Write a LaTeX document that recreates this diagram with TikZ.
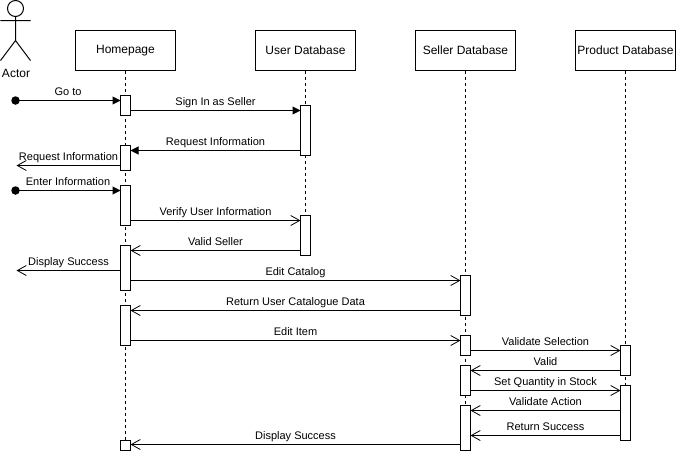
\documentclass[tikz,border=0pt]{standalone}
\usepackage{fontspec}
\setmainfont{Liberation Sans}
\usetikzlibrary{arrows.meta,backgrounds}
\tikzset{
  headbox/.style={draw,fill=white,line width=1pt,minimum width=100pt,minimum height=40pt,inner sep=0,outer sep=0,font=\fontsize{12}{14}\selectfont},
  bar/.style={draw,fill=white,line width=1pt,minimum width=10pt,inner sep=0,outer sep=0},
  startdot/.style={circle,fill=black,minimum size=8.5pt,inner sep=0,outer sep=0},
  lifeline/.style={line width=1pt,dash pattern=on 3pt off 3pt},
  solidmsg/.style={line width=1pt,-{Triangle[length=8pt,width=8pt]}},
  openmsg/.style={line width=1pt,-{Straight Barb[length=9pt,width=10pt,line width=0.8pt]}},
  lab/.style={midway,anchor=base,yshift=5pt,inner sep=0,font=\fontsize{11}{13}\selectfont}
}
\begin{document}
\begin{tikzpicture}[x=1pt,y=-1pt]
      \useasboundingbox (-0.5,-0.5) rectangle (676.5,454.5);
      \node[draw,circle,line width=1pt,minimum size=16pt,inner sep=0,outer sep=0] (head) at (15,8) {};
      \coordinate (hip) at (15,40);
      \coordinate (handL) at (0,20);
      \coordinate (handR) at (30,20);
      \coordinate (footL) at (0,60);
      \coordinate (footR) at (30,60);
      \draw[line width=1pt] (head) -- (hip) (handL) -- (handR) (footL) -- (hip) -- (footR);
      \node[font=\fontsize{12}{14}\selectfont] (actor) at (15.5,73) {Actor};
      \foreach \n/\x/\t in {hp/125/Homepage,ud/305/User Database,sd/465/Seller Database,pd/625/Product Database}
        \node[headbox] (\n) at (\x,50) {\t};
      \foreach \n/\x/\a/\b in {h1/125/95/115,h2/125/145/170,h3/125/185/225,h4/125/245/290,h5/125/305/345,h6/125/440/450,
          u1/305/105/155,u2/305/215/255,
          s1/465/275/315,s2/465/335/355,s3/465/365/395,s4/465/405/450,
          p1/625/345/375,p2/625/385/440}
        \node[bar,minimum height=\b pt-\a pt] (\n) at (\x,{(\a+\b)/2}) {};
      \begin{scope}[on background layer]
        \foreach \n/\m in {hp/h6,ud/u2,sd/s4,pd/p2}
          \draw[lifeline] (\n) -- (\m);
      \end{scope}
      \node[startdot] (d1) at (15,100) {};
      \node[startdot] (d2) at (15,190) {};
      \coordinate (e1) at (16,165);
      \coordinate (e2) at (16,270);
      \foreach \a/\b/\y/\t in {d1/h1.west/100/Go to,
          h1.east/u1.west/110/Sign In as Seller,
          u1.west/h2.east/150/Request Information,
          d2/h3.west/190/Enter Information}
        \draw[solidmsg] (\a |- 0,\y) -- (\b |- 0,\y) node[lab] {\t};
      \foreach \a/\b/\y/\t in {h2.west/e1/165/Request Information,
          h3.east/u2.west/220/Verify User Information,
          u2.west/h4.east/250/Valid Seller,
          h4.west/e2/270/Display Success,
          h4.east/s1.west/280/Edit Catalog,
          s1.west/h5.east/310/Return User Catalogue Data,
          h5.east/s2.west/340/Edit Item,
          s2.east/p1.west/350/Validate Selection,
          p1.west/s3.east/370/Valid,
          s3.east/p2.west/390/Set Quantity in Stock,
          p2.west/s4.east/410/Validate Action,
          p2.west/s4.east/435/Return Success,
          s4.west/h6.east/444/Display Success}
        \draw[openmsg] (\a |- 0,\y) -- (\b |- 0,\y) node[lab] {\t};
    \end{tikzpicture}
\end{document}
